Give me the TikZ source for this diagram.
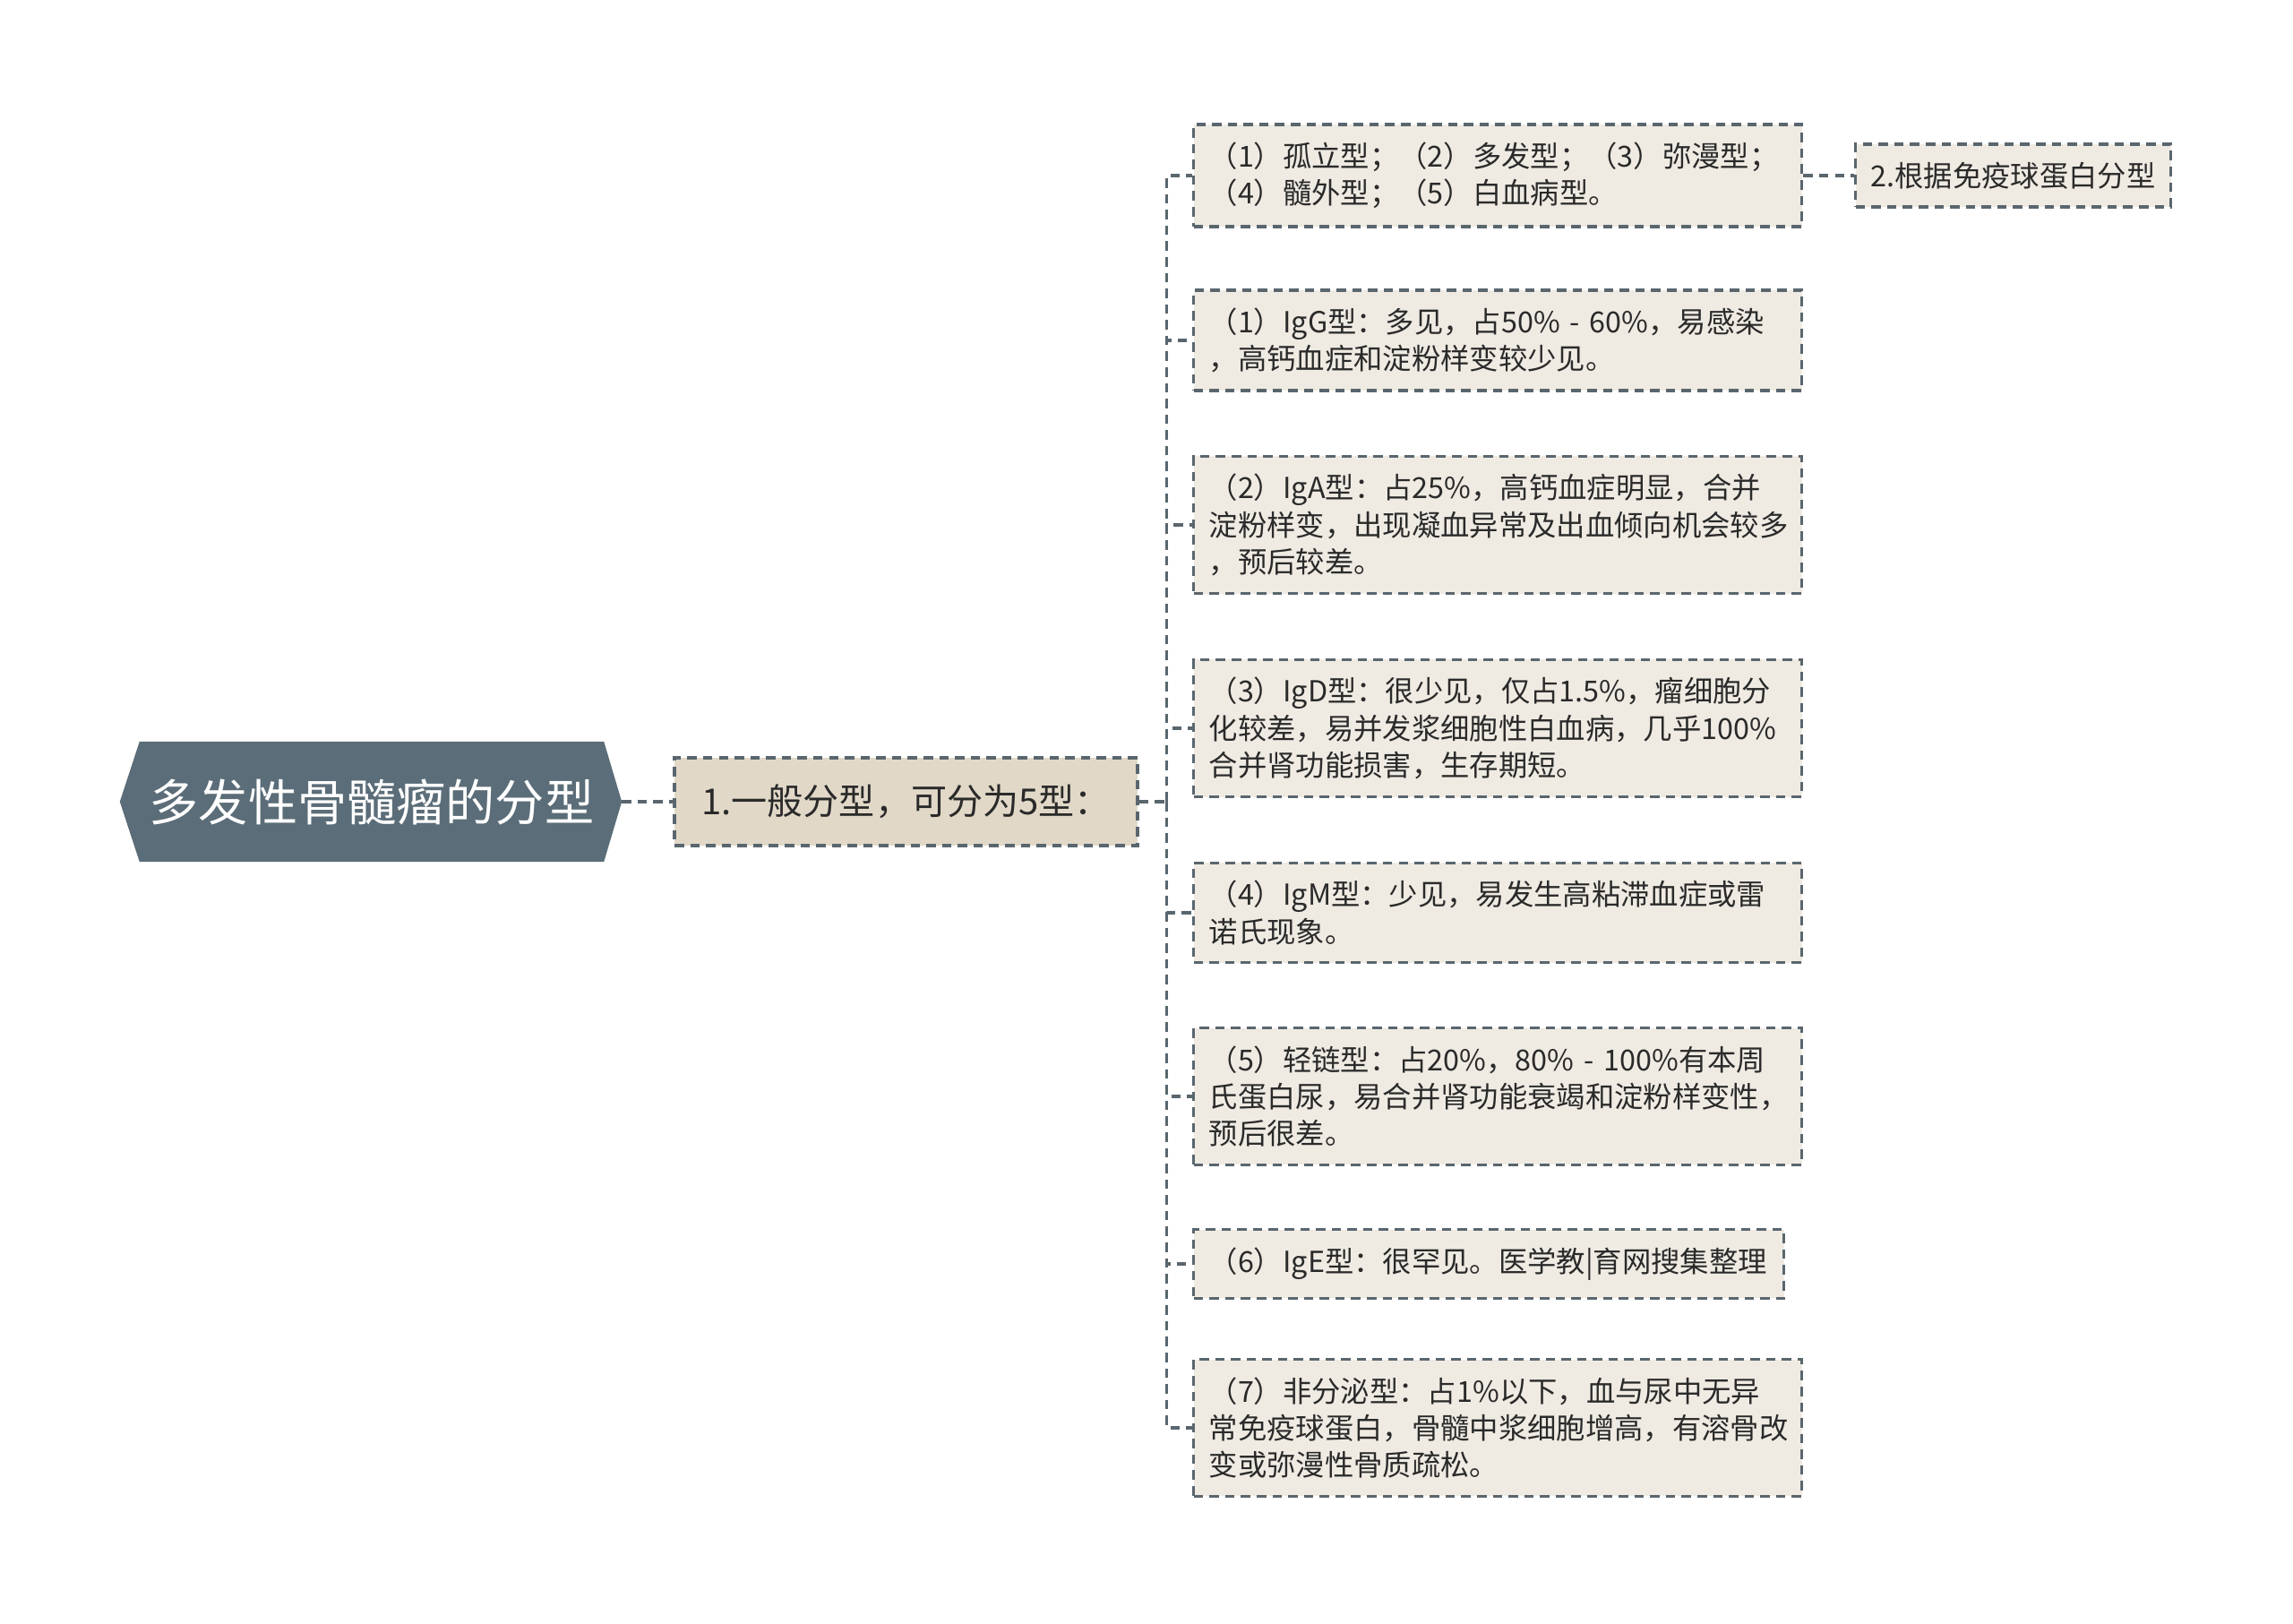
\documentclass[tikz,border=0pt]{standalone}
\usepackage{fontspec}
\setmainfont{Noto Sans CJK SC}
\usetikzlibrary{calc,backgrounds}

\definecolor{rootfill}{HTML}{5B6D78}
\definecolor{midfill}{HTML}{E1D8C8}
\definecolor{leaffill}{HTML}{EFEBE3}
\definecolor{edgegray}{HTML}{5A666E}
\definecolor{txtgray}{HTML}{2A2A2A}

\tikzset{
    dashbox/.style={draw=edgegray, line width=0.95pt, dash pattern=on 3pt off 2pt},
    leafbox/.style={dashbox, fill=leaffill, text=txtgray, anchor=west, align=left,
        text width=6.45cm, inner xsep=0.17cm, inner ysep=0.2cm,
        font=\fontsize{9.2pt}{11.7pt}\selectfont},
    link/.style={draw=edgegray, line width=0.95pt, dash pattern=on 3pt off 2pt}
}

\begin{document}
\begin{tikzpicture}
    \useasboundingbox (0,0) rectangle (25.6,-18.13);

    % Racine (hexagone)
    \node[minimum width=5.17cm, minimum height=1.33cm, inner sep=0pt,
          text=white, font=\fontsize{15.7pt}{18pt}\selectfont] (root) at (4.15,-8.95) {多发性骨髓瘤的分型};
    \begin{scope}[on background layer]
        \fill[rootfill] (root.north west) -- (root.north east) -- ($(root.east)+(0.2,0)$)
            -- (root.south east) -- (root.south west) -- ($(root.west)+(-0.22,0)$) -- cycle;
    \end{scope}

    % Premier niveau
    \node[dashbox, fill=midfill, text=txtgray, minimum width=5.17cm, minimum height=0.98cm,
          font=\fontsize{11.4pt}{14pt}\selectfont] (general) at (10.115,-8.95) {1.一般分型，可分为5型：};

    % Feuilles
    \node[leafbox] (solit) at (13.31,-1.96) {（1）孤立型；（2）多发型；（3）弥漫型；\\（4）髓外型；（5）白血病型。};
    \node[leafbox] (igg) at (13.31,-3.80) {（1）IgG型：多见，占50\% - 60\%，易感染\\，高钙血症和淀粉样变较少见。};
    \node[leafbox] (iga) at (13.31,-5.86) {（2）IgA型：占25\%，高钙血症明显，合并\\淀粉样变，出现凝血异常及出血倾向机会较多\\，预后较差。};
    \node[leafbox] (igd) at (13.31,-8.13) {（3）IgD型：很少见，仅占1.5\%，瘤细胞分\\化较差，易并发浆细胞性白血病，几乎100\%\\合并肾功能损害，生存期短。};
    \node[leafbox] (igm) at (13.31,-10.19) {（4）IgM型：少见，易发生高粘滞血症或雷\\诺氏现象。};
    \node[leafbox] (light) at (13.31,-12.24) {（5）轻链型：占20\%，80\% - 100\%有本周\\氏蛋白尿，易合并肾功能衰竭和淀粉样变性，\\预后很差。};
    \node[leafbox, text width=6.25cm] (ige) at (13.31,-14.11) {（6）IgE型：很罕见。医学教|育网搜集整理};
    \node[leafbox] (nonsec) at (13.31,-15.94) {（7）非分泌型：占1\%以下，血与尿中无异\\常免疫球蛋白，骨髓中浆细胞增高，有溶骨改\\变或弥漫性骨质疏松。};

    % Deuxieme classement
    \node[leafbox, text width=, inner xsep=0.17cm] (immuno) at (20.70,-1.96) {2.根据免疫球蛋白分型};

    % Liaisons
    \draw[link] ($(root.east)+(0.2,0)$) -- (general.west);
    \draw[link] (general.east) -- ++(0.31,0) coordinate (trunk);
    \foreach \leaf in {solit,igg,iga,igd,igm,light,ige,nonsec} {
        \draw[link] (trunk) |- (\leaf.west);
    }
    \draw[link] (solit.east) -- (immuno.west);
\end{tikzpicture}
\end{document}
